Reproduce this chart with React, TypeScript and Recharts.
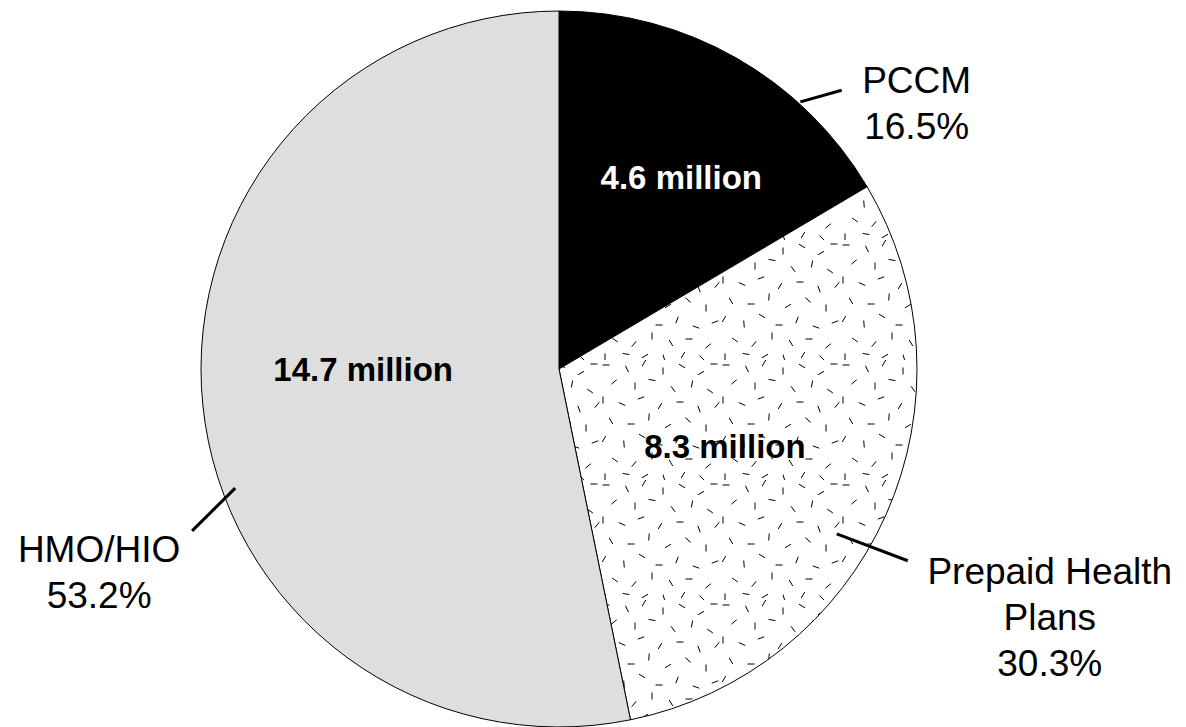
import React from 'react';
import { PieChart, Pie, Cell } from 'recharts';

// Medicaid managed care enrollment by plan type
const categories = ['PCCM', 'Prepaid Health Plans', 'HMO/HIO'];
const categoryLines = [['PCCM'], ['Prepaid Health', 'Plans'], ['HMO/HIO']];
const shares = [16.5, 30.3, 53.2];
const enrollmentMillions = [4.6, 8.3, 14.7];

const data = categories.map((name, i) => ({
    name,
    share: shares[i],
    enrollment: enrollmentMillions[i],
}));

const fills = ['#000000', 'url(#dashPattern)', '#dedede'];
const innerTextColors = ['#ffffff', '#000000', '#000000'];

// leader line / label placement per slice: angles in degrees, radii relative to the pie edge
const labelLayout = [
    { from: [47.9, 2], to: [44.6, 39], dx: 75, dy: 3, inner: [57.4, 0.634] },
    { from: [-30.7, -35], to: [-28.8, 40], dx: 142, dy: 23, inner: [-24.9, 0.511] },
    { from: [200.2, -13], to: [203.8, 43], dx: -93, dy: 31, inner: [180, 0.547] },
];

// little dashes used as the texture of the prepaid slice (x, y, angle)
const dashes = [
    [6, 5, 0], [27, 9, 65], [44, 3, 120], [63, 11, 90], [82, 6, 30], [101, 13, 150], [114, 4, 0],
    [14, 22, 140], [35, 26, 90], [52, 20, 10], [73, 29, 55], [92, 24, 100], [110, 31, 35],
    [3, 40, 90], [22, 44, 25], [41, 38, 160], [60, 46, 120], [80, 42, 0], [99, 49, 70], [117, 45, 130],
    [11, 61, 60], [31, 64, 0], [49, 57, 95], [68, 66, 150], [88, 60, 40], [106, 68, 90],
    [4, 79, 120], [24, 84, 85], [42, 76, 30], [59, 85, 0], [77, 80, 110], [96, 87, 20], [115, 82, 160],
    [15, 100, 35], [34, 104, 130], [52, 96, 90], [71, 103, 60], [89, 99, 0], [108, 106, 140],
    [5, 117, 90], [26, 114, 10], [45, 116, 150], [64, 118, 75], [83, 115, 120], [102, 118, 45],
];

const FONT = '"Liberation Sans", Arial, Helvetica, sans-serif';
const RAD = Math.PI / 180;

const polar = (cx: number, cy: number, r: number, deg: number) => ({
    x: cx + r * Math.cos(deg * RAD),
    y: cy - r * Math.sin(deg * RAD),
});

const renderLabel = (props: any) => {
    const { cx, cy, outerRadius, index } = props;
    const layout = labelLayout[index];
    const p1 = polar(cx, cy, outerRadius + layout.from[1], layout.from[0]);
    const p2 = polar(cx, cy, outerRadius + layout.to[1], layout.to[0]);
    const pin = polar(cx, cy, outerRadius * layout.inner[1], layout.inner[0]);
    const lines = [...categoryLines[index], `${shares[index]}%`];
    const tx = p2.x + layout.dx;
    const ty = p2.y + layout.dy;

    return (
        <g key={`label-${index}`}>
            <line x1={p1.x} y1={p1.y} x2={p2.x} y2={p2.y} stroke="#000" strokeWidth={3} />
            <text
                x={tx}
                y={ty}
                textAnchor="middle"
                fontFamily={FONT}
                fontSize={37}
                fill="#000"
            >
                {lines.map((l, i) => (
                    <tspan key={i} x={tx} y={ty + i * 46}>
                        {l}
                    </tspan>
                ))}
            </text>
            <text
                x={pin.x}
                y={pin.y}
                textAnchor="middle"
                dominantBaseline="central"
                fontFamily={FONT}
                fontWeight="bold"
                fontSize={33}
                fill={innerTextColors[index]}
            >
                {`${enrollmentMillions[index]} million`}
            </text>
        </g>
    );
};

const App = () => {
    return (
        <div style={{ position: 'absolute', left: 0, top: 0, width: 1186, height: 727, background: '#fff' }}>
            <svg width={0} height={0} style={{ position: 'absolute' }}>
                <defs>
                    <pattern id="dashPattern" width={120} height={120} patternUnits="userSpaceOnUse">
                        <rect width={120} height={120} fill="#fff" />
                        {dashes.map(([x, y, a], i) => (
                            <line
                                key={i}
                                x1={x - 3.5 * Math.cos(a * RAD)}
                                y1={y - 3.5 * Math.sin(a * RAD)}
                                x2={x + 3.5 * Math.cos(a * RAD)}
                                y2={y + 3.5 * Math.sin(a * RAD)}
                                stroke="#000"
                                strokeWidth={1}
                            />
                        ))}
                    </pattern>
                </defs>
            </svg>
            <PieChart width={1186} height={727} margin={{ top: 0, right: 0, bottom: 0, left: 0 }}>
                <Pie
                    data={data}
                    dataKey="share"
                    nameKey="name"
                    cx={559}
                    cy={369}
                    outerRadius={358}
                    startAngle={90}
                    endAngle={-270}
                    stroke="#000"
                    strokeWidth={1}
                    label={renderLabel}
                    labelLine={false}
                    isAnimationActive={false}
                >
                    {data.map((d, i) => (
                        <Cell key={d.name} fill={fills[i]} />
                    ))}
                </Pie>
            </PieChart>
        </div>
    );
};

export default App;
